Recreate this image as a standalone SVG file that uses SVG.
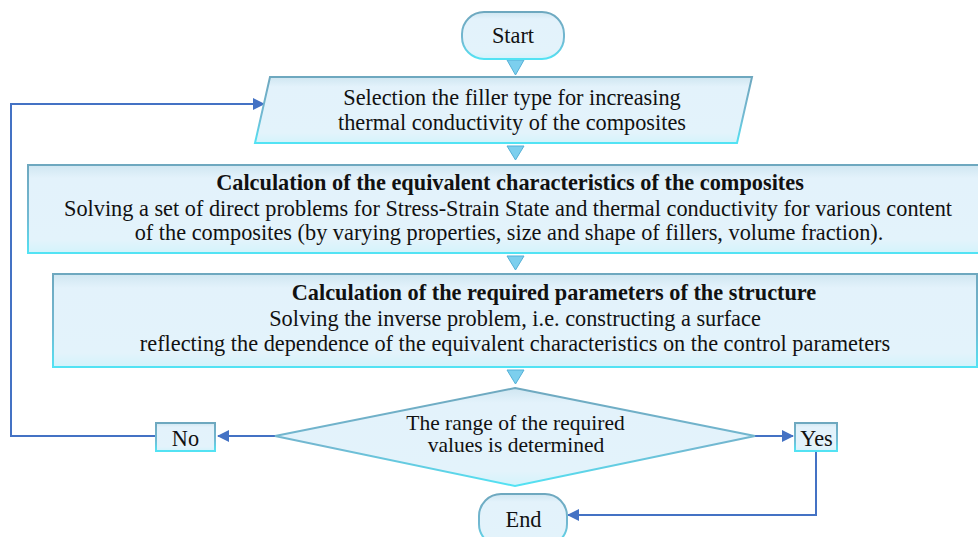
<svg xmlns="http://www.w3.org/2000/svg" width="978" height="537" viewBox="0 0 978 537">
<style>
.t{font-family:'Liberation Serif','Times New Roman',serif;font-size:22.3px;fill:#111;text-anchor:middle}
.d{font-size:21.5px}
.b{font-weight:bold}
.n{fill:url(#fillG);stroke:url(#edgeG);stroke-width:2}
.tri{fill:#7ccfee;stroke:#55b0d6;stroke-width:1}
.c{fill:none;stroke:#4472c4;stroke-width:2}
</style>
<defs>
<linearGradient id="fillG" x1="0" y1="0" x2="0" y2="1">
<stop offset="0" stop-color="#cfe6f1"/>
<stop offset="0.15" stop-color="#e3f2fb"/>
<stop offset="0.85" stop-color="#e3f3fb"/>
<stop offset="1" stop-color="#d3f3fb"/>
</linearGradient>
<linearGradient id="edgeG" x1="0" y1="0" x2="0" y2="1">
<stop offset="0" stop-color="#6ea8bf"/>
<stop offset="0.6" stop-color="#72b9d2"/>
<stop offset="1" stop-color="#52e3f4"/>
</linearGradient>
<marker id="ah" markerWidth="12" markerHeight="12" refX="11" refY="6" orient="auto" markerUnits="userSpaceOnUse">
<path d="M0,0 L12,6 L0,12 Z" fill="#4472c4"/>
</marker>
</defs>
<g id="connectors">
<path class="c" d="M275,436 L218,436" marker-end="url(#ah)"/>
<path class="c" d="M155,436 L11,436 L11,104 L264,104" marker-end="url(#ah)"/>
<path class="c" d="M755,436 L793,436" marker-end="url(#ah)"/>
<path class="c" d="M816,451 L816,515 L568,515" marker-end="url(#ah)"/>
<path class="tri" d="M507,60 L524,60 L515.5,75 Z"/>
<path class="tri" d="M507,146 L524,146 L515.5,160 Z"/>
<path class="tri" d="M507,256 L524,256 L515.5,270 Z"/>
<path class="tri" d="M507,370 L524,370 L515.5,384 Z"/>
</g>
<g id="start">
<rect class="n" x="462" y="12" width="102" height="47" rx="22"/>
<text class="t" x="513" y="43">Start</text>
</g>
<g id="selection">
<path class="n" d="M270,77 L752,77 L737,143 L255,143 Z"/>
<text class="t" x="512" y="105">Selection the filler type for increasing</text>
<text class="t" x="512" y="130">thermal conductivity of the composites</text>
</g>
<g id="calc-equivalent">
<rect class="n" x="28" y="165" width="952" height="88"/>
<text class="t b" x="510" y="190">Calculation of the equivalent characteristics of the composites</text>
<text class="t" x="508" y="216">Solving a set of direct problems for Stress-Strain State and thermal conductivity for various content</text>
<text class="t" x="509" y="240">of the composites (by varying properties, size and shape of fillers, volume fraction).</text>
</g>
<g id="calc-required">
<rect class="n" x="53" y="274" width="924" height="93"/>
<text class="t b" x="554" y="300">Calculation of the required parameters of the structure</text>
<text class="t" x="515" y="326">Solving the inverse problem, i.e. constructing a surface</text>
<text class="t" x="515" y="351">reflecting the dependence of the equivalent characteristics on the control parameters</text>
</g>
<g id="decision">
<path class="n" d="M515,388 L755,436 L515,486 L275,436 Z"/>
<text class="t d" x="515.5" y="430">The range of the required</text>
<text class="t d" x="516" y="452">values is determined</text>
</g>
<g id="no">
<rect class="n" x="156" y="423" width="59" height="28"/>
<text class="t" x="185.5" y="446">No</text>
</g>
<g id="yes">
<rect class="n" x="795" y="423" width="42" height="28"/>
<text class="t" x="816.5" y="446">Yes</text>
</g>
<g id="end">
<rect class="n" x="479" y="494" width="88" height="52" rx="22"/>
<text class="t" x="523.5" y="527">End</text>
</g>
</svg>
